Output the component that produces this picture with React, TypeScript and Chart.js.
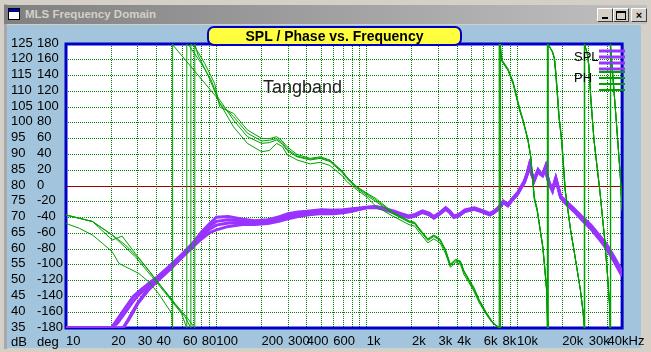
import React, { useEffect, useRef } from 'react';
import { Chart, registerables } from 'chart.js';

Chart.register(...registerables);

const FONT = "'Liberation Sans Narrow', 'Arial Narrow', 'Liberation Sans', Arial, sans-serif";
const FONT_WIDE = "'Liberation Sans', Arial, sans-serif";

const SPL_COLOR = '#9933FF';
const PH_COLOR = '#00A000';
const GRID_COLOR = '#008000';
const ZERO_COLOR = '#A00000';
const BORDER_COLOR = '#0000C8';

// ---- x axis ----
const xGridFreqs = [
  10, 20, 30, 40, 50, 60, 70, 80, 90,
  100, 200, 300, 400, 500, 600, 700, 800, 900,
  1000, 2000, 3000, 4000, 5000, 6000, 7000, 8000, 9000,
  10000, 20000, 30000, 40000,
];
const xLabelFreqs = [10, 20, 30, 40, 60, 80, 100, 200, 300, 400, 600, 1000, 2000, 3000, 4000, 6000, 8000, 10000, 20000, 30000, 40000];
const xLabelTexts = ['10', '20', '30', '40', '60', '80', '100', '200', '300', '400', '600', '1k', '2k', '3k', '4k', '6k', '8k', '10k', '20k', '30k', '40kHz'];

// ---- SPL (dB) ----
const splFreq = [
  10, 15, 20, 22, 24, 26, 28, 30, 35, 40,
  50, 60, 70, 80, 90, 100, 120, 150, 180, 220,
  260, 300, 350, 400, 500, 600, 700, 800, 900, 1000,
  1150, 1300, 1500, 1700, 1900, 2100, 2350, 2600, 2800, 3050,
  3350, 3550, 3800, 4100, 4500, 5200, 5900, 6600, 7100, 7500,
  8100, 8400, 8700, 9300, 10100, 10600, 11200, 11700, 12100, 12500,
  13000, 13400, 13800, 14300, 14800, 15500, 15900, 16400, 17200, 17600,
  18100, 18800, 19500, 21000, 24000, 27000, 31000, 35000, 39500, 44000,
  48500, 50000,
];
const spl1 = [
  35, 35, 35, 37.8, 40.4, 42.8, 45, 46.3, 48.9, 51,
  55.1, 58.7, 62, 65.5, 68, 70.1, 70.3, 69.5, 69.0, 69.3,
  70.2, 71.2, 71.8, 72.0, 72.5, 72.3, 72.5, 72.8, 73.0, 73.3,
  73.5, 73.0, 72.1, 71.2, 70.5, 71.0, 72.1, 71.4, 70.3, 71.5,
  73.1, 72.2, 70.5, 71.0, 72.4, 73.1, 72.2, 71.3, 72.2, 73.1,
  75.2, 74.7, 74.2, 76.0, 77.9, 79.7, 81.6, 84.2, 86.9, 84.2,
  82.1, 83.7, 85.2, 84.2, 83.7, 86.3, 83.2, 81.0, 78.9, 80.7,
  82.6, 79.7, 76.8, 75.3, 72.8, 70.3, 67.6, 64.6, 61.4, 57.7,
  54.1, 53.0,
];
const spl2 = [
  35, 35, 35, 36.5, 39, 41.3, 43.5, 45.2, 48, 50.3,
  54.5, 58.2, 61.5, 64.6, 67.2, 68.8, 69.3, 69.0, 68.6, 68.8,
  69.6, 70.6, 71.3, 71.6, 72.0, 71.8, 72.0, 72.4, 72.8, 73.2,
  73.3, 72.7, 71.8, 70.9, 70.2, 70.7, 71.8, 71.1, 70.0, 71.2,
  72.8, 71.9, 70.2, 70.7, 72.1, 72.8, 71.9, 71.0, 71.9, 72.8,
  74.9, 74.4, 73.9, 75.7, 77.6, 79.4, 81.3, 83.9, 86.5, 83.9,
  81.8, 83.4, 84.9, 83.9, 83.4, 86.0, 82.9, 80.7, 78.6, 80.4,
  82.3, 79.4, 76.5, 74.8, 72.3, 69.6, 66.9, 63.8, 60.5, 56.8,
  53.1, 52.0,
];
const spl3 = [
  35, 35, 35, 35, 35, 37.5, 40.1, 42.7, 46.8, 49.6,
  53.9, 57.7, 60.8, 63.3, 65.2, 66.1, 67.2, 67.8, 67.8, 68.1,
  68.8, 69.6, 70.3, 70.8, 71.3, 71.2, 71.5, 72.0, 72.6, 73.1,
  73.2, 72.6, 71.6, 70.7, 70.0, 70.5, 71.6, 70.9, 69.8, 71.0,
  72.6, 71.7, 70.0, 70.5, 71.9, 72.6, 71.7, 70.8, 71.7, 72.6,
  74.7, 74.2, 73.7, 75.5, 77.4, 79.2, 81.1, 83.7, 86.3, 83.7,
  81.6, 83.2, 84.7, 83.7, 83.2, 85.8, 82.7, 80.5, 78.4, 80.2,
  82.1, 79.2, 76.3, 74.5, 71.9, 69.2, 66.4, 63.3, 60.0, 56.2,
  52.6, 51.5,
];
const spl4 = [
  35, 35, 35, 35, 35, 37.8, 40.5, 43, 47.2, 50,
  54.3, 58.2, 61.4, 64.2, 66.3, 67.6, 68.3, 68.5, 68.2, 68.4,
  69.1, 70.0, 70.8, 71.2, 71.7, 71.5, 71.8, 72.2, 72.7, 73.2,
  73.4, 72.8, 71.9, 71.0, 70.3, 70.8, 71.9, 71.2, 70.1, 71.3,
  72.9, 72.0, 70.3, 70.8, 72.2, 72.9, 72.0, 71.1, 72.0, 72.9,
  75.0, 74.5, 74.0, 75.8, 77.7, 79.5, 81.4, 84.0, 86.7, 84.0,
  81.9, 83.5, 85.0, 84.0, 83.5, 86.1, 83.0, 80.8, 78.7, 80.5,
  82.4, 79.5, 76.6, 75.0, 72.4, 69.8, 67.1, 64.0, 60.8, 57.0,
  53.4, 52.3,
];

// ---- Phase (deg), with the ±180 wraps ----
const phF1 = [
  10, 12.3, 15, 17.5, 20.3, 22.5, 24.9, 30.5, 35.4, 41.2, 45.6, 50.5, 51.2, 51.2, 52.5, 99.6,
  130, 161, 200, 225, 252, 275, 295, 344, 421, 490, 569, 697, 733, 850, 1000,
  1155, 1486, 1914, 2090, 2200, 2550, 2795, 3070, 3334, 3600, 3900, 4200, 4430, 4770, 5150,
  5600, 6200, 6800, 7200, 7600, 7600, 7800, 8700, 9400, 10400, 10900, 11800, 12300, 13000,
  13600, 14000, 14800, 15300, 15700, 15900, 15900, 16300, 17100, 17600, 18000, 18500, 18900,
  19700, 20800, 22600, 23800, 25200, 26300, 27400, 28000, 28000, 28400, 29200, 30000, 30800,
  31500, 32400, 35400, 38200, 40100, 41100, 41600, 41600, 41900, 43500, 45400, 48400, 50000,
];
const phV1 = [
  -47.4, -53.7, -62.2, -72.7, -83.4, -98.1, -102.4, -110.8, -121.4, -136.1, -148.8, -161.5, -180, 180, 176.6, 113.2,
  75, 54, 43.4, 45, 54, 50, 40, 33, 28, 30, 26, 12, 6, -4, -14,
  -26, -38, -49, -51, -57, -72, -67, -72, -85, -103, -97, -99, -112, -122, -133,
  -148, -162, -173, -177, -180, 180, 162, 149, 133, 99, 86, 60, 39, -13,
  -28, -45, -75, -104, -130, -180, 180, 177, 171, 163, 145, 116, 90,
  60, -3, -53, -79, -108, -130, -158, -180, 180, 176, 169, 152, 115,
  90, 60, -3, -66, -117, -148, -180, 180, 177, 136, 90, 18, -28,
];
const phF2 = [
  10, 15, 20.3, 24.9, 30.4, 35.3, 41.2, 50.5, 61.9, 67.7, 67.7, 71.9, 83.6, 97.3, 105.5,
  130, 161, 200, 225, 252, 275, 295, 344, 421, 490, 569, 697, 733, 850, 1000,
  1155, 1486, 1914, 2090, 2200, 2550, 2795, 3070, 3334, 3600, 3900, 4200, 4430, 4770, 5150,
  5600, 6200, 6800, 7200, 7700, 7700, 7870, 8700, 9400, 10400, 10900, 11800, 12300, 13000,
  13600, 14000, 14800, 15300, 15700, 16000, 16000, 16400, 17200, 17700, 18100, 18600, 19000,
  19800, 20900, 22700, 23900, 25300, 26400, 27500, 28100, 28100, 28500, 29300, 30100, 30900,
  31600, 32500, 35500, 38300, 40200, 41200, 41700, 41700, 42000, 43600, 45500, 48500, 50000,
];
const phV2 = [
  -36.8, -45, -62, -75, -91.7, -106.6, -123, -144.6, -165.8, -180, 180, 176.6, 155.5, 130.2, 100,
  92, 71, 60.4, 60, 62.5, 57, 49.8, 40, 35, 37, 33, 18, 12, 0, -9,
  -16, -33, -44, -46, -52, -67, -62, -67, -80, -99, -93, -95, -107, -118, -128,
  -144, -159, -171, -176, -180, 180, 160, 147, 130, 96, 84, 58, 37, -16,
  -31, -47, -77, -107, -132, -180, 180, 177, 170, 162, 143, 113, 88,
  58, -5, -56, -81, -110, -132, -160, -180, 180, 176, 168, 151, 113,
  88, 58, -5, -68, -119, -150, -180, 180, 177, 134, 88, 16, -30,
];
const phF3 = [
  10, 15, 20.3, 28.9, 37.3, 47.9, 58.6, 63.6, 63.6, 66.6, 79.3, 92.3, 101.7,
  130, 161, 200, 225, 252, 275, 295, 344, 421, 490, 569, 697, 733, 850, 1000,
  1155, 1486, 1914, 2090, 2200, 2550, 2795, 3070, 3334, 3600, 3900, 4200, 4430, 4770, 5150,
  5600, 6200, 6800, 7200, 7750, 7750, 7950, 8800, 9500, 10500, 11000, 11900, 12400, 13100,
  13700, 14100, 14900, 15400, 15800, 16100, 16100, 16500, 17300, 17800, 18200, 18700, 19100,
  19900, 21000, 22800, 24000, 25400, 26500, 27600, 28200, 28200, 28600, 29400, 30200, 31000,
  31700, 32600, 35600, 38400, 40300, 41300, 41800, 41800, 42100, 43700, 45600, 48600, 50000,
];
const phV3 = [
  -36.8, -45, -62.2, -89.7, -115, -140.4, -161.5, -180, 180, 176.6, 155.5, 134.4, 113.2,
  83.6, 62.5, 54, 55, 58.3, 53, 45, 37, 33, 35, 31, 16, 10, -2, -12,
  -20, -35, -46, -48, -54, -69, -64, -69, -82, -101, -95, -97, -109, -120, -131,
  -146, -161, -172, -177, -180, 180, 158, 145, 128, 94, 82, 56, 35, -18,
  -33, -49, -79, -109, -134, -180, 180, 176, 169, 161, 141, 111, 86,
  56, -7, -58, -83, -112, -134, -162, -180, 180, 175, 167, 150, 111,
  86, 56, -7, -70, -121, -152, -180, 180, 176, 132, 86, 14, -32,
];
const phF4 = [
  10, 15, 20.3, 23.6, 28.9, 35.4, 43.3, 53, 63.2, 71.9, 71.9, 75.5, 87.8, 105,
  130, 161, 200, 225, 252, 275, 295, 344, 421, 490, 569, 697, 733, 850, 1000,
  1155, 1486, 1914, 2090, 2200, 2550, 2795, 3070, 3334, 3600, 3900, 4200, 4430, 4770, 5150,
  5600, 6200, 6800, 7200, 7700, 7700, 7900, 8750, 9450, 10450, 10950, 11850, 12350, 13050,
  13650, 14050, 14850, 15350, 15750, 16050, 16050, 16450, 17250, 17750, 18150, 18650, 19050,
  19850, 20950, 22750, 23950, 25350, 26450, 27550, 28150, 28150, 28550, 29350, 30150, 30950,
  31650, 32550, 35550, 38350, 40250, 41250, 41750, 41750, 42050, 43650, 45550, 48550, 50000,
];
const phV4 = [
  -36.8, -45, -68.5, -63.5, -85.4, -106.6, -127.7, -148.8, -165.8, -180, 180, 166, 141, 105,
  88, 67, 57, 58, 60, 55, 47, 38, 34, 36, 32, 17, 11, -1, -10,
  -18, -34, -45, -47, -53, -68, -63, -68, -81, -100, -94, -96, -108, -119, -130,
  -145, -160, -172, -176, -180, 180, 159, 146, 129, 95, 83, 57, 36, -17,
  -32, -48, -78, -108, -133, -180, 180, 177, 170, 162, 142, 112, 87,
  57, -6, -57, -82, -111, -133, -161, -180, 180, 176, 168, 151, 112,
  87, 57, -6, -69, -120, -151, -180, 180, 177, 133, 87, 15, -31,
];

const chartTitle = 'SPL / Phase vs. Frequency';
const windowTitle = 'MLS Frequency Domain';
const noteText = 'Tangband';

const pts = (fs: number[], vs: number[]) => fs.map((f, i) => ({ x: f, y: vs[i] }));

const overlayPlugin = {
  id: 'overlay',
  beforeDraw(chart: any) {
    const { ctx, chartArea: a } = chart;
    ctx.save();
    ctx.fillStyle = '#FFFFFF';
    ctx.fillRect(a.left, a.top, a.right - a.left, a.bottom - a.top);
    ctx.restore();
  },
  beforeDatasetsDraw(chart: any) {
    const { ctx, chartArea: a } = chart;
    const y0 = chart.scales.yDb.getPixelForValue(80);
    ctx.save();
    ctx.strokeStyle = ZERO_COLOR;
    ctx.lineWidth = 1;
    ctx.beginPath();
    ctx.moveTo(a.left, Math.round(y0) + 0.5);
    ctx.lineTo(a.right, Math.round(y0) + 0.5);
    ctx.stroke();
    ctx.strokeStyle = BORDER_COLOR;
    ctx.lineWidth = 3;
    ctx.strokeRect(a.left, a.top, a.right - a.left, a.bottom - a.top);
    ctx.restore();
  },
  afterDraw(chart: any) {
    const { ctx, chartArea: a } = chart;
    ctx.save();
    // note
    ctx.fillStyle = '#1E1E1E';
    ctx.font = `18px ${FONT_WIDE}`;
    ctx.textBaseline = 'alphabetic';
    ctx.textAlign = 'left';
    ctx.fillText(noteText, 263, 93);
    // legend
    ctx.fillStyle = '#000000';
    ctx.font = `13px ${FONT}`;
    ctx.textBaseline = 'middle';
    ctx.fillText('SPL', 574, 57);
    ctx.fillText('PH', 574, 78);
    ctx.strokeStyle = SPL_COLOR;
    ctx.lineWidth = 3;
    [51, 57, 63, 69].forEach((y) => {
      ctx.beginPath();
      ctx.moveTo(599, y);
      ctx.lineTo(625, y);
      ctx.stroke();
    });
    ctx.strokeStyle = PH_COLOR;
    ctx.lineWidth = 2;
    [72, 78, 84, 90].forEach((y) => {
      ctx.beginPath();
      ctx.moveTo(599, y);
      ctx.lineTo(625, y);
      ctx.stroke();
    });
    // unit labels under the y axes
    const yUnit = a.bottom + 14;
    ctx.fillStyle = '#000000';
    ctx.fillText('dB', chart.scales.yDb.left, yUnit);
    ctx.fillText('deg', chart.scales.yDeg.left, yUnit);
    ctx.restore();
  },
};

export default function App() {
  const ref = useRef<HTMLCanvasElement>(null);

  useEffect(() => {
    document.body.style.margin = '0';
    const canvas = ref.current;
    if (!canvas) return;
    const phase = [
      [phF1, phV1],
      [phF2, phV2],
      [phF3, phV3],
      [phF4, phV4],
    ];
    const spl = [spl1, spl2, spl3, spl4];
    const datasets: any[] = [
      ...phase.map(([f, v]) => ({
        label: 'PH',
        data: pts(f, v),
        yAxisID: 'yDeg',
        borderColor: PH_COLOR,
        borderWidth: 1,
        pointRadius: 0,
        tension: 0,
        fill: false,
      })),
      ...spl.map((v) => ({
        label: 'SPL',
        data: pts(splFreq, v),
        yAxisID: 'yDb',
        borderColor: SPL_COLOR,
        borderWidth: 3,
        pointRadius: 0,
        tension: 0,
        fill: false,
      })),
    ];
    const tickFont = { family: FONT, size: 13 };
    const chart = new Chart(canvas, {
      type: 'line',
      data: { datasets },
      options: {
        responsive: false,
        animation: false,
        devicePixelRatio: 1,
        events: [],
        layout: { padding: { left: 11, top: 44, right: 23, bottom: 0 } },
        plugins: { legend: { display: false }, tooltip: { enabled: false }, title: { display: false } },
        scales: {
          x: {
            type: 'logarithmic',
            position: 'bottom',
            min: 10,
            max: 50000,
            afterBuildTicks: (s: any) => {
              s.ticks = xGridFreqs.map((v) => ({ value: v }));
            },
            afterFit: (s: any) => {
              s.height = 24;
            },
            grid: { color: GRID_COLOR, lineWidth: 1, drawTicks: false },
            border: { display: false, dash: [1, 1] },
            ticks: {
              autoSkip: false,
              maxRotation: 0,
              minRotation: 0,
              align: 'start',
              padding: 6,
              color: '#000000',
              font: tickFont,
              callback: (value: any) => {
                const i = xLabelFreqs.indexOf(Number(value));
                return i >= 0 ? xLabelTexts[i] : '';
              },
            },
          },
          yDb: {
            type: 'linear',
            position: 'left',
            weight: 1,
            min: 35,
            max: 125,
            afterFit: (s: any) => {
              s.width = 26;
            },
            grid: { color: GRID_COLOR, lineWidth: 1, drawTicks: false },
            border: { display: false, dash: [1, 1] },
            ticks: { stepSize: 5, autoSkip: false, crossAlign: 'far', padding: 0, labelOffset: -1, color: '#000000', font: tickFont },
          },
          yDeg: {
            type: 'linear',
            position: 'left',
            weight: 0,
            min: -180,
            max: 180,
            afterFit: (s: any) => {
              s.width = 29;
            },
            grid: { display: false, drawTicks: false },
            border: { display: false },
            ticks: { stepSize: 20, autoSkip: false, crossAlign: 'far', padding: 0, labelOffset: -1, color: '#000000', font: tickFont },
          },
        },
      } as any,
      plugins: [overlayPlugin],
    });
    return () => chart.destroy();
  }, []);

  const btn = (left: number, content: React.ReactNode) => (
    <div
      style={{
        position: 'absolute',
        left,
        top: 8,
        width: 14,
        height: 12,
        background: '#D4D0C8',
        borderTop: '1px solid #FFFFFF',
        borderLeft: '1px solid #FFFFFF',
        borderRight: '1px solid #404040',
        borderBottom: '1px solid #404040',
        boxSizing: 'content-box',
        fontFamily: FONT_WIDE,
        fontSize: 11,
        fontWeight: 'bold',
        lineHeight: '12px',
        textAlign: 'center',
        color: '#000',
      }}
    >
      {content}
    </div>
  );

  return (
    <div style={{ position: 'relative', width: 651, height: 352, background: '#D4D0C8', overflow: 'hidden' }}>
      <div style={{ position: 'absolute', left: 4, top: 4, width: 3, height: 345, background: '#A8A8A8' }} />
      <div
        style={{
          position: 'absolute',
          left: 4,
          top: 5,
          width: 643,
          height: 19,
          background: 'linear-gradient(to right, #808080, #C0C0C0)',
        }}
      />
      <div
        style={{
          position: 'absolute',
          left: 8,
          top: 8,
          width: 12,
          height: 12,
          background: '#FFFFFF',
          border: '1px solid #000',
          boxSizing: 'border-box',
        }}
      >
        <div style={{ height: 3, background: '#0000A0' }} />
      </div>
      <div
        style={{
          position: 'absolute',
          left: 25,
          top: 5,
          height: 19,
          lineHeight: '19px',
          fontFamily: FONT_WIDE,
          fontWeight: 'bold',
          fontSize: 11.5,
          color: '#D4D0C8',
          whiteSpace: 'nowrap',
        }}
      >
        {windowTitle}
      </div>
      {btn(597, <span style={{ display: 'inline-block', width: 6, height: 2, background: '#000', marginTop: 8 }} />)}
      {btn(613, <span style={{ display: 'inline-block', width: 8, height: 6, border: '1px solid #000', borderTopWidth: 2, marginTop: 2 }} />)}
      {btn(631, '×')}
      <div style={{ position: 'absolute', left: 7, top: 25, width: 634, height: 323, background: '#A2C4DC' }} />
      <canvas
        ref={ref}
        width={651}
        height={352}
        style={{ position: 'absolute', left: 0, top: 0, width: 651, height: 352, display: 'block' }}
      />
      <div
        style={{
          position: 'absolute',
          left: 207,
          top: 26,
          width: 255,
          height: 20,
          boxSizing: 'border-box',
          background: '#FFFF40',
          border: `2px solid ${BORDER_COLOR}`,
          borderRadius: 7,
          fontFamily: FONT_WIDE,
          fontWeight: 'bold',
          fontSize: 14,
          lineHeight: '16px',
          textAlign: 'center',
          color: '#000',
        }}
      >
        {chartTitle}
      </div>
    </div>
  );
}
